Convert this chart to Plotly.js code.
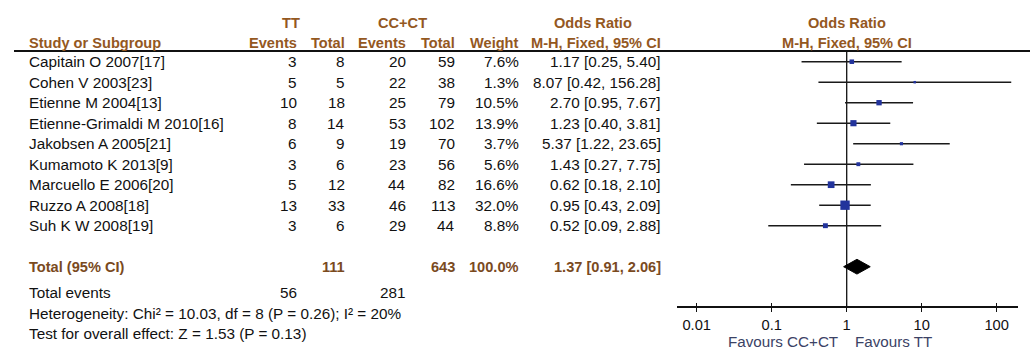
<!DOCTYPE html>
<html>
<head>
<meta charset="utf-8">
<script src="https://cdn.plot.ly/plotly-3.0.1.min.js"></script>
<style>html,body{margin:0;padding:0;background:#fff;}#chart{width:1035px;height:354px;}</style>
</head>
<body>
<div id="chart"></div>
<script>
// ---- data ----
const studies = ["Capitain O 2007[17]", "Cohen V 2003[23]", "Etienne M 2004[13]", "Etienne-Grimaldi M 2010[16]",
  "Jakobsen A 2005[21]", "Kumamoto K 2013[9]", "Marcuello E 2006[20]", "Ruzzo A 2008[18]", "Suh K W 2008[19]"];
const ttEvents = [3, 5, 10, 8, 6, 3, 5, 13, 3];
const ttTotal = [8, 5, 18, 14, 9, 6, 12, 33, 6];
const ccEvents = [20, 22, 25, 53, 19, 23, 44, 46, 29];
const ccTotal = [59, 38, 79, 102, 70, 56, 82, 113, 44];
const weights = [7.6, 1.3, 10.5, 13.9, 3.7, 5.6, 16.6, 32.0, 8.8];
const oddsRatio = [1.17, 8.07, 2.70, 1.23, 5.37, 1.43, 0.62, 0.95, 0.52];
const ciLow = [0.25, 0.42, 0.95, 0.40, 1.22, 0.27, 0.18, 0.43, 0.09];
const ciHigh = [5.40, 156.28, 7.67, 3.81, 23.65, 7.75, 2.10, 2.09, 2.88];
const totalTT = 111, totalCC = 643, totalWeight = 100.0;
const totalEventsTT = 56, totalEventsCC = 281;
const pooledOR = 1.37, pooledLow = 0.91, pooledHigh = 2.06;
const heterogeneityText = "Heterogeneity: Chi² = 10.03, df = 8 (P = 0.26); I² = 20%";
const overallText = "Test for overall effect: Z = 1.53 (P = 0.13)";
const tickVals = [0.01, 0.1, 1, 10, 100];
const tickLabels = ["0.01", "0.1", "1", "10", "100"];

// ---- layout helpers ----
const W = 1035, H = 354;
const FONT = "Arial, 'Liberation Sans', sans-serif";
const HDR = "#94581f";
const TOT = "#7a4a1e";
const BLUE = "#22339c";
const REG = 15.3, BOLD = 14.6;
const px = v => v / W;
const rowTop = 61.7, rowStep = 20.5;
const idx = p => (p - rowTop) / rowStep; // pixel y -> row index
const totalRow = studies.length + 1;

const annotations = [];
function txt(text, xPix, row, anchor, opts) {
  opts = opts || {};
  annotations.push({
    text: text, xref: 'paper', yref: 'y', x: px(xPix), y: row,
    xanchor: anchor, yanchor: 'middle', showarrow: false,
    font: {family: FONT, size: opts.size || REG, color: opts.color || '#111'}
  });
}
const b = s => '<b>' + s + '</b>';
const hOpt = {color: HDR, size: BOLD};
const tOpt = {color: TOT, size: BOLD};

// headers
const h1 = idx(23.3), h2 = idx(43.3);
txt(b('TT'), 291, h1, 'center', hOpt);
txt(b('CC+CT'), 402.5, h1, 'center', hOpt);
txt(b('Odds Ratio'), 593, h1, 'center', hOpt);
txt(b('Odds Ratio'), 847, h1, 'center', hOpt);
txt(b('Study or Subgroup'), 27, h2, 'left', hOpt);
txt(b('Events'), 299, h2, 'right', hOpt);
txt(b('Total'), 347, h2, 'right', hOpt);
txt(b('Events'), 408, h2, 'right', hOpt);
txt(b('Total'), 457, h2, 'right', hOpt);
txt(b('Weight'), 521, h2, 'right', hOpt);
txt(b('M-H, Fixed, 95% CI'), 663, h2, 'right', hOpt);
txt(b('M-H, Fixed, 95% CI'), 847, h2, 'center', hOpt);

const fmtCI = (o, l, h) => o.toFixed(2) + ' [' + l.toFixed(2) + ', ' + h.toFixed(2) + ']';
studies.forEach((s, i) => {
  txt(s, 27, i, 'left');
  txt(String(ttEvents[i]), 299, i, 'right');
  txt(String(ttTotal[i]), 347, i, 'right');
  txt(String(ccEvents[i]), 408, i, 'right');
  txt(String(ccTotal[i]), 457, i, 'right');
  txt(weights[i].toFixed(1) + '%', 521, i, 'right');
  txt(fmtCI(oddsRatio[i], ciLow[i], ciHigh[i]), 663, i, 'right');
});
txt(b('Total (95% CI)'), 27, totalRow, 'left', tOpt);
txt(b(String(totalTT)), 347, totalRow, 'right', tOpt);
txt(b(String(totalCC)), 457, totalRow, 'right', tOpt);
txt(b(totalWeight.toFixed(1) + '%'), 521, totalRow, 'right', tOpt);
txt(b(fmtCI(pooledOR, pooledLow, pooledHigh)), 663, totalRow, 'right', tOpt);
txt('Total events', 27, idx(292.7), 'left');
txt(String(totalEventsTT), 299, idx(292.7), 'right');
txt(String(totalEventsCC), 408, idx(292.7), 'right');
txt(heterogeneityText, 27, idx(313.3), 'left');
txt(overallText, 27, idx(333.3), 'left');
txt('Favours CC+CT', 840, idx(341.7), 'right', {color: '#3b4265', size: 15.2});
txt('Favours TT', 853, idx(341.7), 'left', {color: '#3b4265', size: 15.2});

// ---- traces ----
const lineX = [], lineY = [];
studies.forEach((s, i) => { lineX.push(ciLow[i], ciHigh[i], null); lineY.push(i, i, null); });
const ciTrace = {x: lineX, y: lineY, mode: 'lines', type: 'scatter', line: {color: '#1a1a1a', width: 1.5},
  hoverinfo: 'skip', showlegend: false, xaxis: 'x', yaxis: 'y'};
const sqTrace = {x: oddsRatio, y: studies.map((s, i) => i), mode: 'markers', type: 'scatter',
  marker: {symbol: 'square', color: BLUE, opacity: 1, size: weights.map(w => Math.max(2.5, 1.65 * Math.sqrt(w))), line: {width: 0}},
  showlegend: false, xaxis: 'x', yaxis: 'y'};
const dh = 0.36;
const diamond = {x: [pooledLow, pooledOR, pooledHigh, pooledOR, pooledLow],
  y: [totalRow, totalRow - dh, totalRow, totalRow + dh, totalRow], mode: 'lines', fill: 'toself',
  fillcolor: '#000', line: {color: '#000', width: 1}, type: 'scatter', showlegend: false, xaxis: 'x2', yaxis: 'y'};

const xAxisPos = (H - 307) / H;
const logMin = -2 - (696.7 - 677) / 75, logMax = 2 + (1018 - 996.7) / 75;
const xdom = [px(677), px(1018)];
const layout = {
  width: W, height: H, margin: {l: 0, r: 0, t: 0, b: 0},
  paper_bgcolor: '#fff', plot_bgcolor: 'rgba(0,0,0,0)',
  showlegend: false,
  xaxis: {type: 'log', domain: xdom, range: [logMin, logMax], anchor: 'free', position: xAxisPos,
    showline: true, linecolor: '#111', linewidth: 2, ticks: 'outside', ticklen: 4, tickwidth: 1.5, tickcolor: '#111',
    tickvals: tickVals, ticktext: tickLabels, tickfont: {family: FONT, size: 14.7, color: '#111'},
    showgrid: false, zeroline: false, fixedrange: true},
  xaxis2: {type: 'log', domain: xdom, range: [logMin, logMax], anchor: 'free', position: xAxisPos, overlaying: 'x',
    showline: false, ticks: 'inside', ticklen: 4, tickwidth: 1.5, tickcolor: '#111', tickvals: tickVals,
    showticklabels: false, showgrid: false, zeroline: false},
  yaxis: {domain: [0, 1], range: [idx(H), idx(0)], visible: false, showgrid: false, zeroline: false},
  shapes: [
    {type: 'line', xref: 'paper', yref: 'y', x0: px(14), x1: px(1030), y0: idx(51), y1: idx(51), line: {color: '#111', width: 2}},
    {type: 'line', xref: 'x', yref: 'y', x0: 1, x1: 1, y0: idx(51), y1: idx(307), line: {color: '#111', width: 1.3}, layer: 'below'}
  ],
  annotations: annotations
};
Plotly.newPlot('chart', [ciTrace, sqTrace, diamond], layout, {displayModeBar: false, staticPlot: true});
</script>
</body>
</html>
